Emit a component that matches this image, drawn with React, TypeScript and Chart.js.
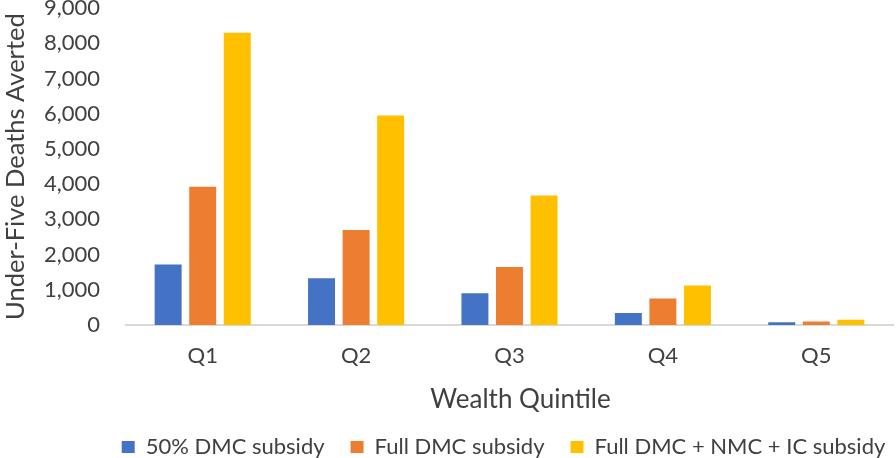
import React, { useEffect, useRef } from "react";
import { Chart, registerables } from "chart.js";

Chart.register(...registerables);

const categories = ["Q1", "Q2", "Q3", "Q4", "Q5"];
const seriesNames = ["50% DMC subsidy", "Full DMC subsidy", "Full DMC + NMC + IC subsidy"];
const dmc50 = [1720, 1330, 900, 340, 80];
const dmcFull = [3930, 2700, 1650, 750, 100];
const dmcNmcIc = [8300, 5950, 3680, 1120, 150];
const yMin = 0;
const yMax = 9000;
const yStep = 1000;
const yTitle = "Under-Five Deaths Averted";
const xTitle = "Wealth Quintile";

const colors = ["#4472C4", "#ED7D31", "#FFC000"];
const SHIFT = 31;
const EXTRA = 19;
const FONT = "Lato, 'Noto Sans', sans-serif";
const TEXT = "#404040";

const layoutTweaks = {
  id: "layoutTweaks",
  afterLayout(chart: any) {
    const lg = chart.legend;
    if (lg) {
      lg.left += 57;
      lg.right += 57;
      lg.top -= 9;
      lg.bottom -= 9;
    }
    const xs = chart.scales.x;
    if (xs && !xs._titleShifted) {
      const orig = xs.drawTitle.bind(xs);
      xs.drawTitle = function () {
        const c = this.ctx;
        c.save();
        c.translate(11, 0);
        orig();
        c.restore();
      };
      xs._titleShifted = true;
    }
  },
};

export default function App() {
  const ref = useRef<HTMLCanvasElement | null>(null);

  useEffect(() => {
    document.body.style.margin = "0";
    const canvas = ref.current;
    if (!canvas) return;
    const chart = new Chart(canvas, {
      type: "bar",
      data: {
        labels: categories,
        datasets: [dmc50, dmcFull, dmcNmcIc].map((d, i) => ({
          label: seriesNames[i],
          data: d,
          backgroundColor: colors[i],
          borderWidth: 0,
          categoryPercentage: 0.676,
          barPercentage: 0.78,
        })),
      },
      plugins: [layoutTweaks],
      options: {
        animation: false,
        responsive: false,
        devicePixelRatio: 1,
        layout: { padding: { top: 0, right: 3, bottom: 0, left: 0 } },
        plugins: {
          legend: {
            position: "bottom",
            labels: {
              color: TEXT,
              font: { family: FONT, size: 22 },
              boxWidth: 13,
              boxHeight: 12,
              padding: 26,
            },
          },
          tooltip: { enabled: false },
        },
        scales: {
          x: {
            grid: { display: false, drawTicks: false },
            border: { display: true, color: "#D9D9D9", width: 2 },
            ticks: { color: TEXT, font: { family: FONT, size: 22 }, padding: 18 },
            title: {
              display: true,
              text: xTitle,
              color: TEXT,
              font: { family: FONT, size: 26 },
              padding: { top: 0, bottom: 4 },
            },
            afterFit: (s: any) => {
              s.height = 94;
            },
          },
          y: {
            min: yMin,
            max: yMax,
            grid: { display: false, drawTicks: false },
            border: { display: false },
            ticks: {
              stepSize: yStep,
              color: TEXT,
              font: { family: FONT, size: 22 },
              padding: 26,
              callback: (v: any) => Number(v).toLocaleString("en-US"),
            },
            title: {
              display: true,
              text: yTitle,
              color: TEXT,
              font: { family: FONT, size: 25.5 },
              padding: { top: 0, bottom: 0 },
            },
            afterFit: (s: any) => {
              s.width = 126;
            },
          },
        },
      },
    });
    return () => chart.destroy();
  }, []);

  const h = 458 + SHIFT + EXTRA;
  return (
    <div style={{ position: "relative", width: 896, height: 458, overflow: "hidden", background: "#fff" }}>
      <canvas
        ref={ref}
        width={896}
        height={h}
        style={{ position: "absolute", left: 0, top: -SHIFT, width: 896, height: h }}
      />
    </div>
  );
}
